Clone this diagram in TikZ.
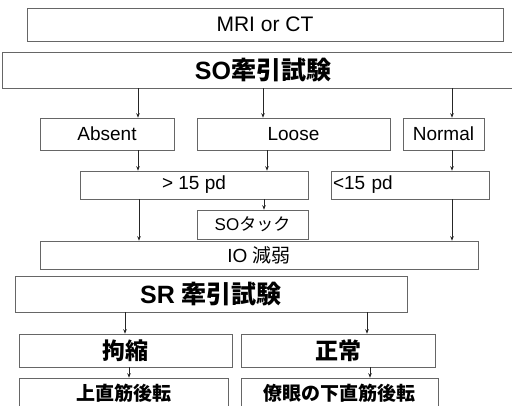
\documentclass[tikz,border=0pt]{standalone}
\usepackage{fontspec}
\setmainfont{Liberation Sans}
\newfontfamily\cjk{Noto Sans CJK JP}
\usetikzlibrary{arrows.meta}
\tikzset{
  bx/.style={draw=black!60, line width=0.55pt, inner sep=0pt, align=center},
  arr/.style={draw=black!85, line width=0.7pt, -{Stealth[length=4.5pt,width=3.5pt]}},
  fa/.style={font=\fontsize{21}{21}\selectfont},
  fb/.style={font=\fontsize{19}{19}\selectfont},
  fbig/.style={font=\fontsize{25}{25}\selectfont\bfseries},
  fj/.style={font=\fontsize{23}{23}\selectfont\bfseries},
  fs/.style={font=\fontsize{19}{19}\selectfont\bfseries},
}
\begin{document}
\begin{tikzpicture}[x=1pt,y=-1pt]
\useasboundingbox (0,0) rectangle (512,406);
\clip (0,0) rectangle (512,406);
\fill[white] (0,0) rectangle (512,406);
\node[bx,fa,minimum width=476pt,minimum height=33pt] (mri) at (265,24.5) {MRI or CT};
\node[bx,fbig,minimum width=522pt,minimum height=36pt] (so) at (263,70) {SO{\cjk 牽引試験}};
\node[bx,fb,minimum width=134pt,minimum height=32pt] (absent) at (107,134) {Absent};
\node[bx,fb,minimum width=193pt,minimum height=32pt] (loose) at (293.5,134) {Loose};
\node[bx,fb,minimum width=81pt,minimum height=32pt] (normal) at (443.5,134) {Normal};
\node[bx,fb,minimum width=228pt,minimum height=28pt] (gt) at (194,185) {> 15 pd};
\node[bx,fb,minimum width=158pt,minimum height=28pt,text width=154pt,align=left] (lt) at (410,185) {<15 pd};
\node[bx,font=\fontsize{17}{17}\selectfont,minimum width=111pt,minimum height=29pt] (tack) at (252.5,224.5) {SO{\cjk タック}};
\node[bx,fb,minimum width=438pt,minimum height=28pt] (io) at (259,255) {IO {\cjk 減弱}};
\node[bx,fbig,minimum width=392pt,minimum height=36pt] (sr) at (211,294) {SR {\cjk 牽引試験}};
\node[bx,fj,minimum width=213pt,minimum height=33pt] (kou) at (125.5,350.5) {{\cjk 拘縮}};
\node[bx,fj,minimum width=194pt,minimum height=33pt] (sei) at (338,350.5) {{\cjk 正常}};
\node[bx,fs,minimum width=209pt,minimum height=30pt] (jo) at (123.5,393) {{\cjk 上直筋後転}};
\node[bx,fs,minimum width=197pt,minimum height=30pt] (ryo) at (339.5,393) {{\cjk 僚眼の下直筋後転}};
\draw[arr] (so.south -| 138,0) -- (absent.north -| 138,0);
\draw[arr] (so.south -| 263,0) -- (loose.north -| 263,0);
\draw[arr] (so.south -| 452,0) -- (normal.north -| 452,0);
\draw[arr] (absent.south -| 138,0) -- (gt.north -| 138,0);
\draw[arr] (loose.south -| 267,0) -- (gt.north -| 267,0);
\draw[arr] (normal.south -| 452,0) -- (lt.north -| 452,0);
\draw[arr] (gt.south -| 264,0) -- (tack.north -| 264,0);
\draw[arr] (gt.south -| 139,0) -- (io.north -| 139,0);
\draw[arr] (lt.south -| 452,0) -- (io.north -| 452,0);
\draw[arr] (sr.south -| 125,0) -- (kou.north -| 125,0);
\draw[arr] (sr.south -| 367,0) -- (sei.north -| 367,0);
\draw[arr] (kou.south -| 129,0) -- (jo.north -| 129,0);
\draw[arr] (sei.south -| 370,0) -- (ryo.north -| 370,0);
\end{tikzpicture}
\end{document}
